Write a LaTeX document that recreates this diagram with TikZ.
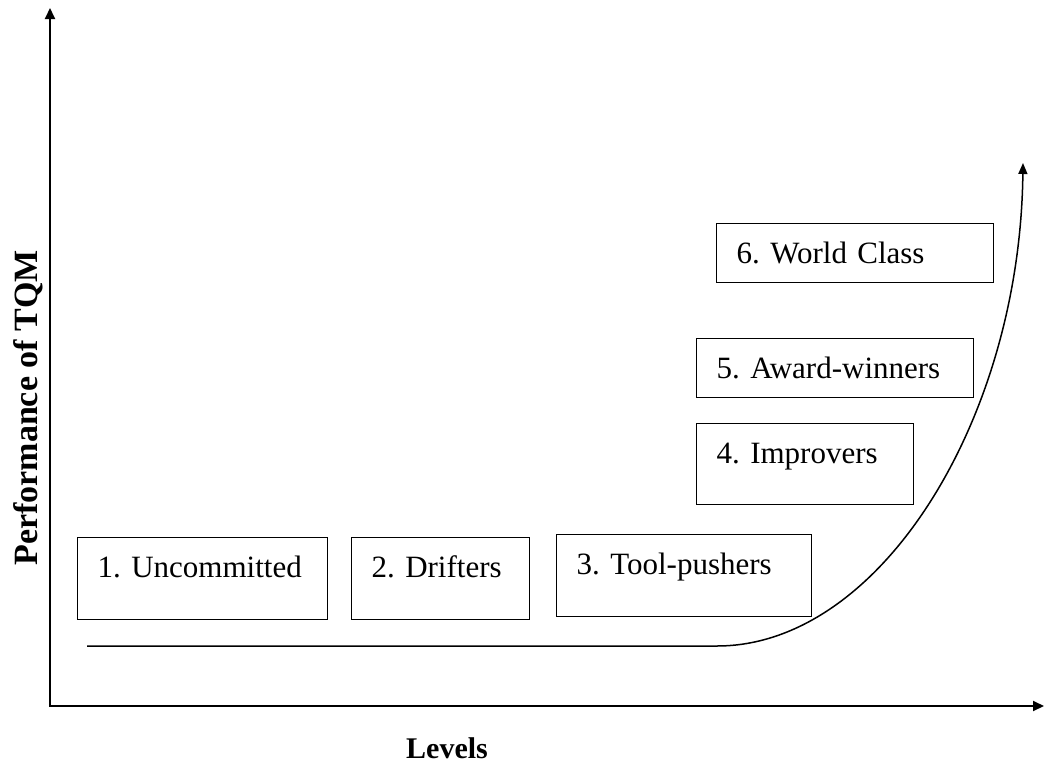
\documentclass[tikz,border=0pt]{standalone}
\usepackage{fontspec}
\setmainfont{Liberation Serif}
\usetikzlibrary{arrows.meta}
\frenchspacing
\begin{document}
\begin{tikzpicture}[x=1pt,y=-1pt,
  stagebox/.style={draw=black, line width=1.4pt, anchor=north west, inner ysep=0pt, inner xsep=20pt,
    align=left, font=\rmfamily\fontsize{31}{36}\selectfont, text height=40pt},
  axis/.style={line width=2pt, -{Triangle[length=11pt,width=10pt]}},
  curvearrow/.style={line width=1.5pt, -{Triangle[length=11pt,width=9pt]}}]
\useasboundingbox (0,0) rectangle (1045,763);
% axes
\coordinate (origin) at (50,706);
\coordinate (ytip) at (50,8);
\coordinate (xtip) at (1044,706);
\draw[axis] (origin) -- (ytip);
\draw[axis] ([xshift=-1pt]origin) -- (xtip);
% boxes: (left, top), width W, height H: text width = W-40, text depth = H-40
\node[stagebox, text width=210pt, text depth=42pt] (b1) at (77,537) {1. Uncommitted};
\node[stagebox, text width=138pt, text depth=42pt] (b2) at (351,537) {2. Drifters};
\node[stagebox, text width=215pt, text depth=42pt] (b3) at (556,534) {3. Tool-pushers};
\node[stagebox, text width=177pt, text depth=41pt] (b4) at (696,423) {4. Improvers};
\node[stagebox, text width=237pt, text depth=19pt] (b5) at (696,338) {5. Award-winners};
\node[stagebox, text width=237pt, text depth=19pt] (b6) at (716,223) {6. World Class};
% curve
\coordinate (cstart) at (87,646);
\coordinate (cbend) at (717,646);
\coordinate (ctip) at (1023,163);
\draw[curvearrow] (cstart) -- (cbend) .. controls (880,646) and (1020,420) .. (ctip);
% axis labels
\node[font=\rmfamily\bfseries\fontsize{34}{40}\selectfont, rotate=90, anchor=base, inner sep=0pt] (ylab) at (37,408) {Performance of TQM};
\node[font=\rmfamily\bfseries\fontsize{30}{36}\selectfont, anchor=base, inner sep=0pt] (xlab) at (447,758) {Levels};
\end{tikzpicture}
\end{document}
